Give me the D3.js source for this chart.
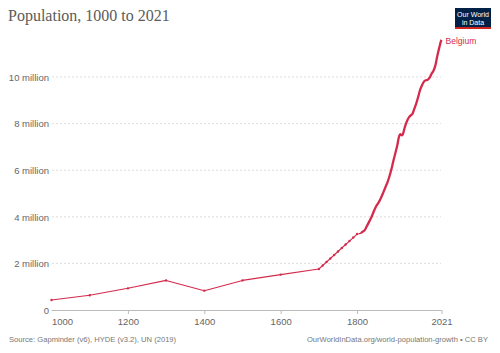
<!DOCTYPE html>
<meta charset="utf-8">
<style>
body { margin: 0; padding: 0; background: #fff; }
svg { font-family: "Liberation Sans", Arial, sans-serif; }
.title { font-family: "Liberation Serif", "DejaVu Serif", serif; font-size: 16px; fill: #5b5b5b; }
.grid line { stroke: #ddd; stroke-dasharray: 2,2; }
.tick text { fill: #666; font-size: 9.5px; }
.foot { fill: #777; font-size: 7.6px; }
.line { fill: none; stroke: #d42b4d; stroke-width: 1.1px; stroke-linejoin: round; }
.line.dense { stroke-width: 2.3px; }
.dot { fill: #d42b4d; }
</style>
<body>
<script src="https://cdn.jsdelivr.net/npm/d3@7"></script>
<script>
var years = [1000, 1100, 1200, 1300, 1400, 1500, 1600, 1700,
  1710, 1720, 1730, 1740, 1750, 1760, 1770, 1780, 1790,
  1800, 1805, 1810, 1815, 1820, 1825, 1830, 1835, 1840, 1845, 1850, 1855, 1860, 1865,
  1870, 1875, 1880, 1885, 1890, 1895, 1900, 1905, 1910, 1913, 1915, 1918, 1920, 1925,
  1930, 1935, 1940, 1945, 1950, 1955, 1960, 1965, 1970, 1975, 1980, 1985, 1990, 1995,
  2000, 2005, 2010, 2015, 2020, 2021];
// millions
var population = [0.43, 0.63, 0.93, 1.27, 0.83, 1.27, 1.52, 1.76,
  1.91, 2.06, 2.21, 2.36, 2.51, 2.66, 2.81, 2.96, 3.11,
  3.26, 3.27, 3.30, 3.36, 3.43, 3.58, 3.74, 3.90, 4.08, 4.28, 4.45, 4.58, 4.72, 4.90,
  5.10, 5.30, 5.50, 5.75, 6.05, 6.40, 6.72, 7.05, 7.45, 7.55, 7.52, 7.50, 7.55, 7.85,
  8.08, 8.25, 8.35, 8.42, 8.64, 8.87, 9.15, 9.45, 9.65, 9.80, 9.86, 9.88, 9.97, 10.14,
  10.27, 10.50, 10.90, 11.25, 11.56, 11.59];
var country = "Belgium";
var xTicks = [1000, 1200, 1400, 1600, 1800, 2021];
var yTicks = [0, 2, 4, 6, 8, 10];

var width = 500, height = 353;
var svg = d3.select("body").append("svg").attr("width", width).attr("height", height);

svg.append("text").attr("class", "title").attr("x", 8).attr("y", 21).text("Population, 1000 to 2021");

// logo
var logo = svg.append("g").attr("transform", "translate(455,8)");
logo.append("rect").attr("width", 36).attr("height", 21).attr("fill", "#002147");
logo.append("rect").attr("y", 19).attr("width", 36).attr("height", 2).attr("fill", "#ce261e");
logo.append("text").attr("x", 18).attr("y", 9).attr("text-anchor", "middle").attr("fill", "#fff")
  .style("font-size", "7px").text("Our World");
logo.append("text").attr("x", 18).attr("y", 16.5).attr("text-anchor", "middle").attr("fill", "#fff")
  .style("font-size", "7px").text("in Data");

var x = d3.scaleLinear().domain([1000, 2021]).range([51.5, 441.5]);
var y = d3.scaleLinear().domain([0, 10]).range([310, 77]);

// grid
svg.append("g").attr("class", "grid").selectAll("line").data(yTicks.filter(d => d > 0)).join("line")
  .attr("x1", 52).attr("x2", 441).attr("y1", d => y(d)).attr("y2", d => y(d));

var ya = svg.append("g").attr("transform", "translate(49,0)")
  .call(d3.axisLeft(y).tickValues(yTicks).tickSize(0).tickPadding(0)
    .tickFormat(d => d === 0 ? "0" : d + " million"));
ya.select(".domain").remove();
ya.selectAll("text").attr("dy", "0.35em");

var xa = svg.append("g").attr("transform", "translate(0,310)")
  .call(d3.axisBottom(x).tickValues(xTicks).tickSize(4).tickPadding(4).tickFormat(d3.format("d")));
xa.select(".domain").attr("stroke", "#bbb").attr("d", "M51.5,0.5H441.5");
xa.selectAll(".tick line").attr("stroke", "#bbb");
xa.selectAll(".tick text").attr("dy", "0.75em");
xa.selectAll(".tick").filter(d => d === 1000).select("text").attr("text-anchor", "start");
xa.selectAll(".tick").filter(d => d === 1000).select("line").remove();

var data = years.map((d, i) => ({year: d, value: population[i]}));
var line = d3.line().curve(d3.curveMonotoneX).x(d => x(d.year)).y(d => y(d.value));
svg.append("path").datum(data.filter(d => d.year <= 1815)).attr("class", "line")
  .attr("d", d3.line().x(d => x(d.year)).y(d => y(d.value)));
svg.append("path").datum(data.filter(d => d.year >= 1810)).attr("class", "line dense")
  .attr("d", line);
svg.append("g").selectAll("circle").data(data.filter(d => d.year <= 1800)).join("circle").attr("class", "dot")
  .attr("cx", d => x(d.year)).attr("cy", d => y(d.value)).attr("r", 1.2);

var last = data[data.length - 1];
svg.append("text").attr("x", x(last.year) + 4).attr("y", y(last.value) + 4)
  .attr("fill", "#d42b4d").style("font-size", "8.5px").text(country);

svg.append("text").attr("class", "foot").attr("x", 9).attr("y", 342)
  .text("Source: Gapminder (v6), HYDE (v3.2), UN (2019)");
svg.append("text").attr("class", "foot").attr("x", 488).attr("y", 342).attr("text-anchor", "end")
  .text("OurWorldInData.org/world-population-growth \u2022 CC BY");
</script>
</body>
